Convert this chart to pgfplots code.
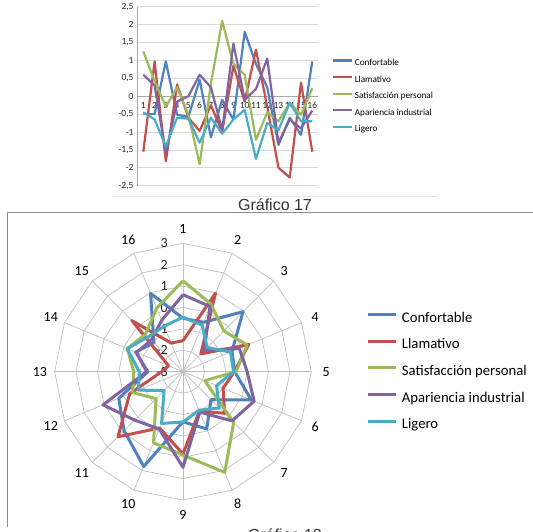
\documentclass[border=0pt]{standalone}
\usepackage{fontspec}
\setmainfont{Carlito}
\newfontfamily\capfont{Liberation Sans}
\usepackage{pgfplots}
\pgfplotsset{compat=1.18}
\usepackage{pgfplotstable}
\usepgfplotslibrary{polar}

\definecolor{cConf}{HTML}{4F81BD}
\definecolor{cLlam}{HTML}{C0504D}
\definecolor{cSat}{HTML}{9BBB59}
\definecolor{cApar}{HTML}{8064A2}
\definecolor{cLig}{HTML}{4BACC6}
\definecolor{gridc}{HTML}{D9D9D9}
\definecolor{axisc}{HTML}{A6A6A6}
\definecolor{radgrid}{HTML}{BFBFBF}

% Puntuaciones medias por atributo (k = item); la fila 17 repite la 1 para cerrar el radar
\pgfplotstableread{
k  conf   llam   sat    apar   lig
1  -0.50  -1.55  1.25   0.60  -0.45
2  -0.50   0.97  0.42   0.30  -0.65
3   0.97  -1.82 -0.30  -1.60  -1.40
4  -0.52   0.33  0.25  -0.15  -0.60
5  -0.58  -0.60 -0.52   0.00  -0.63
6   0.46  -0.97 -1.90   0.60  -1.30
7  -1.15  -0.25  0.35   0.25  -0.60
8  -0.10  -1.00  2.10  -0.95  -1.05
9  -0.66   0.85  0.90   1.47  -0.65
10  1.80  -0.15  0.60  -0.10  -0.38
11  0.90   1.30 -1.22   0.20  -1.75
12  0.25  -0.30 -0.45   1.05  -0.75
13 -1.36  -2.00 -0.70  -1.30  -0.95
14 -0.60  -2.27 -0.18  -0.65  -0.18
15 -1.08   0.38 -0.52  -0.90  -0.70
16  0.97  -1.55  0.22  -0.40  -0.70
17 -0.50  -1.55  1.25   0.60  -0.45
}\datos

\begin{document}
\begin{tikzpicture}[x=1pt,y=1pt]
\path[use as bounding box, clip] (0pt,0pt) rectangle (533pt,531pt);

% marcos
\draw[black!10, line width=0.8pt] (113pt,335pt) -- (437pt,335pt);
\draw[black!45, line width=1pt] (7pt,4pt) -- (7pt,318.7pt) -- (534pt,318.7pt);

% ---------- Gráfico 17: líneas ----------
\begin{axis}[
  at={(137.7pt,345.3pt)}, anchor=south west,
  scale only axis, width=180.2pt, height=179pt,
  xmin=0.5, xmax=16.5, ymin=-2.5, ymax=2.5,
  axis x line=middle, axis y line=left,
  axis line style={-, draw=axisc, line width=0.8pt},
  xtick={1,...,16},
  ytick={-2.5,-2,-1.5,-1,-0.5,0,0.5,1,1.5,2,2.5},
  major tick length=0pt,
  ymajorgrids, grid style={gridc, line width=0.8pt},
  /pgf/number format/use comma,
  /pgf/number format/assume math mode=true,
  tick label style={font=\fontsize{9.5}{10}\selectfont, text=black!85},
  xticklabel style={yshift=-5pt, inner sep=1pt},
  yticklabel style={inner sep=1pt, xshift=-3pt},
  clip=false,
  legend style={draw=none, fill=none, at={(axis description cs:1.078,0.712)},
    anchor=north west, inner sep=0pt, row sep=7.6pt, column sep=1.5pt,
    font=\fontsize{9.2}{10}\selectfont,
    nodes={inner sep=0pt, text height=7pt, text depth=2pt}},
  legend cell align=left,
  legend image code/.code={\draw[#1] (0pt,2.5pt) -- (19pt,2.5pt);},
  every axis plot/.append style={line width=2.2pt, line join=round, mark=none},
]
\addplot[cConf, skip coords between index={16}{17}] table[x=k, y=conf] {\datos};
\addplot[cLlam, skip coords between index={16}{17}] table[x=k, y=llam] {\datos};
\addplot[cSat,  skip coords between index={16}{17}] table[x=k, y=sat]  {\datos};
\addplot[cApar, skip coords between index={16}{17}] table[x=k, y=apar] {\datos};
\addplot[cLig,  skip coords between index={16}{17}] table[x=k, y=lig]  {\datos};
\legend{Confortable, Llamativo, Satisfacción personal, Apariencia industrial, Ligero}
\end{axis}

\node[anchor=base, font=\capfont\fontsize{16}{18}\selectfont, text=black!80] at (275pt,320.3pt) {Gráfico 17};

% ---------- Gráfico 18: radar ----------
\begin{polaraxis}[
  at={(183pt,159.3pt)}, anchor=center,
  scale only axis, width=256.6pt, height=256.6pt,
  xmin=0, xmax=360, ymin=0, ymax=6,
  hide axis, clip=false,
  legend style={draw=none, fill=none, at={(axis description cs:1.216,0.737)},
    anchor=north west, inner sep=0pt, row sep=11.7pt, column sep=4pt,
    font=\fontsize{14.7}{16}\selectfont,
    nodes={inner sep=0pt, text height=11pt, text depth=4pt}},
  legend cell align=left,
  legend image code/.code={\draw[#1] (0pt,4pt) -- (28pt,4pt);},
  every axis plot/.append style={line width=3pt, line join=round, mark=none},
]
% anillos poligonales y radios
\pgfplotsinvokeforeach{1,...,6}{
  \draw[radgrid, line width=0.7pt] (axis cs:90,#1) -- (axis cs:67.5,#1) -- (axis cs:45,#1)
    -- (axis cs:22.5,#1) -- (axis cs:0,#1) -- (axis cs:-22.5,#1) -- (axis cs:-45,#1)
    -- (axis cs:-67.5,#1) -- (axis cs:-90,#1) -- (axis cs:-112.5,#1) -- (axis cs:-135,#1)
    -- (axis cs:-157.5,#1) -- (axis cs:180,#1) -- (axis cs:157.5,#1) -- (axis cs:135,#1)
    -- (axis cs:112.5,#1) -- cycle;
}
\pgfplotsinvokeforeach{0,22.5,...,337.5}{
  \draw[radgrid, line width=0.7pt] (axis cs:0,0) -- (axis cs:#1,6);
}
% etiquetas de la escala
\pgfplotsinvokeforeach{0,...,6}{
  \node[anchor=east, inner sep=0pt, xshift=-15pt, font=\fontsize{14}{16}\selectfont, text=black!85]
    at (axis cs:90,#1) {\pgfmathtruncatemacro\v{#1-3}\v};
}
% números de los ítems
\node[font=\fontsize{14}{16}\selectfont] at (axis cs:90,6.69) {1};
\node[font=\fontsize{14}{16}\selectfont] at (axis cs:67.5,6.69) {2};
\node[font=\fontsize{14}{16}\selectfont] at (axis cs:45,6.69) {3};
\node[font=\fontsize{14}{16}\selectfont] at (axis cs:22.5,6.69) {4};
\node[font=\fontsize{14}{16}\selectfont] at (axis cs:0,6.69) {5};
\node[font=\fontsize{14}{16}\selectfont] at (axis cs:-22.5,6.69) {6};
\node[font=\fontsize{14}{16}\selectfont] at (axis cs:-45,6.69) {7};
\node[font=\fontsize{14}{16}\selectfont] at (axis cs:-67.5,6.69) {8};
\node[font=\fontsize{14}{16}\selectfont] at (axis cs:-90,6.69) {9};
\node[font=\fontsize{14}{16}\selectfont] at (axis cs:-112.5,6.69) {10};
\node[font=\fontsize{14}{16}\selectfont] at (axis cs:-135,6.69) {11};
\node[font=\fontsize{14}{16}\selectfont] at (axis cs:-157.5,6.69) {12};
\node[font=\fontsize{14}{16}\selectfont] at (axis cs:180,6.69) {13};
\node[font=\fontsize{14}{16}\selectfont] at (axis cs:157.5,6.69) {14};
\node[font=\fontsize{14}{16}\selectfont] at (axis cs:135,6.69) {15};
\node[font=\fontsize{14}{16}\selectfont] at (axis cs:112.5,6.69) {16};

\addplot[cConf] table[x expr={90-(\thisrow{k}-1)*22.5}, y expr={\thisrow{conf}+3}] {\datos};
\addplot[cLlam] table[x expr={90-(\thisrow{k}-1)*22.5}, y expr={\thisrow{llam}+3}] {\datos};
\addplot[cSat]  table[x expr={90-(\thisrow{k}-1)*22.5}, y expr={\thisrow{sat}+3}]  {\datos};
\addplot[cApar] table[x expr={90-(\thisrow{k}-1)*22.5}, y expr={\thisrow{apar}+3}] {\datos};
\addplot[cLig]  table[x expr={90-(\thisrow{k}-1)*22.5}, y expr={\thisrow{lig}+3}]  {\datos};
\legend{Confortable, Llamativo, Satisfacción personal, Apariencia industrial, Ligero}
\end{polaraxis}

\node[anchor=base, font=\capfont\fontsize{16}{18}\selectfont, text=black!80] at (285pt,-9.5pt) {Gráfico 18};
\end{tikzpicture}
\end{document}
